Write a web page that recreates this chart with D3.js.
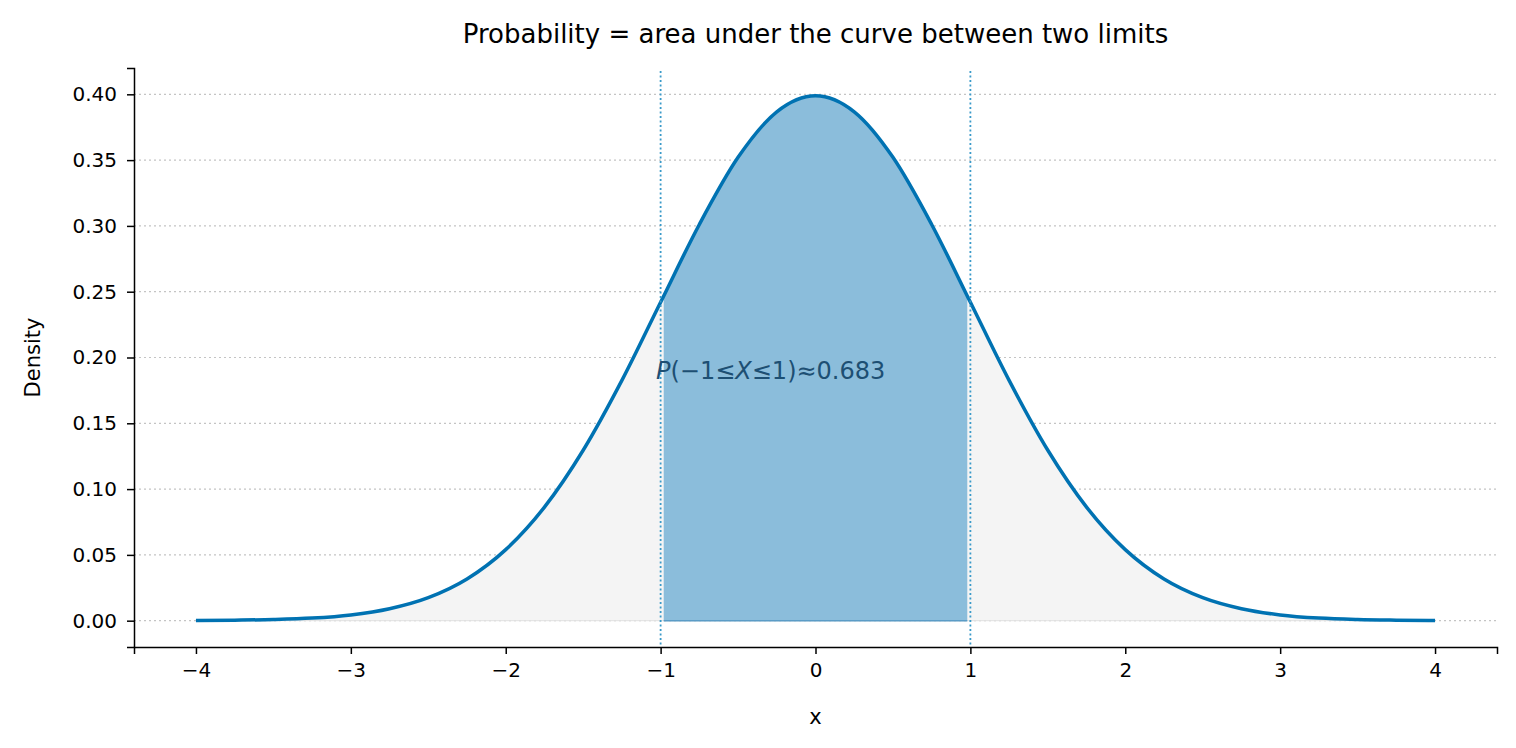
<!DOCTYPE html>
<html>
<head>
<meta charset="utf-8" />
<script src="https://d3js.org/d3.v7.min.js"></script>
<style>
  body { margin: 0; background: #fff; }
  text { font-family: "DejaVu Sans", sans-serif; }
</style>
</head>
<body>
<svg id="chart"></svg>
<script>
// values, step 0.25
var xs = [-4,-3.75,-3.5,-3.25,-3,-2.75,-2.5,-2.25,-2,-1.75,-1.5,-1.25,-1,-0.75,-0.5,-0.25,0,0.25,0.5,0.75,1,1.25,1.5,1.75,2,2.25,2.5,2.75,3,3.25,3.5,3.75,4];
var density = [0.0001,0.0004,0.0009,0.0020,0.0044,0.0091,0.0175,0.0317,0.0540,0.0863,0.1295,0.1826,0.2420,0.3011,0.3521,0.3867,0.3989,0.3867,0.3521,0.3011,0.2420,0.1826,0.1295,0.0863,0.0540,0.0317,0.0175,0.0091,0.0044,0.0020,0.0009,0.0004,0.0001];
var xTicks = [-4,-3,-2,-1,0,1,2,3,4];
var yTicks = [0,0.05,0.1,0.15,0.2,0.25,0.3,0.35,0.4];
var limits = [-1, 1];
var shadeLimits = [-0.98, 0.98];

var width = 1516, height = 748;
var margin = {top: 68, right: 19, bottom: 101, left: 134};
var svg = d3.select("#chart").attr("width", width).attr("height", height);

var x = d3.scaleLinear().domain([-4.4, 4.4]).range([margin.left, width - margin.right]);
var y = d3.scaleLinear().domain([-0.02, 0.42]).range([height - margin.bottom, margin.top]);

var pts = xs.map(function(v, i) { return [v, density[i]]; });

// grid
svg.append("g").selectAll("line").data(yTicks).join("line")
  .attr("x1", margin.left).attr("x2", width - margin.right)
  .attr("y1", function(d) { return y(d); }).attr("y2", function(d) { return y(d); })
  .attr("stroke", "#c4c4c4").attr("stroke-dasharray", "2,3").attr("stroke-width", 1.2);

var area = d3.area().x(function(d) { return x(d[0]); }).y0(y(0)).y1(function(d) { return y(d[1]); })
  .curve(d3.curveMonotoneX);
var line = d3.line().x(function(d) { return x(d[0]); }).y(function(d) { return y(d[1]); })
  .curve(d3.curveMonotoneX);

svg.append("path").datum(pts).attr("d", area)
  .attr("fill", "#f4f4f4").attr("stroke", "#dddddd").attr("stroke-width", 0.8);

svg.append("clipPath").attr("id", "shade").append("rect")
  .attr("x", x(shadeLimits[0])).attr("width", x(shadeLimits[1]) - x(shadeLimits[0]))
  .attr("y", 0).attr("height", height);
svg.append("path").datum(pts).attr("d", area).attr("clip-path", "url(#shade)")
  .attr("fill", "#8bbddb").attr("stroke", "#5b9cc6").attr("stroke-width", 1.5);

svg.append("path").datum(pts).attr("d", line)
  .attr("fill", "none").attr("stroke", "#0072b2").attr("stroke-width", 3.5);

svg.append("g").selectAll("line").data(limits).join("line")
  .attr("x1", function(d) { return x(d); }).attr("x2", function(d) { return x(d); })
  .attr("y1", margin.top + 3).attr("y2", height - margin.bottom)
  .attr("stroke", "#3a9ac9").attr("stroke-width", 1.8).attr("stroke-dasharray", "2,2.5");

// axes
var xAxis = svg.append("g").attr("transform", "translate(0," + (height - margin.bottom) + ")")
  .call(d3.axisBottom(x).tickValues(xTicks).tickSizeOuter(0).tickSize(7).tickPadding(9)
    .tickFormat(function(d) { return d < 0 ? "\u2212" + (-d) : d; }));
var yAxis = svg.append("g").attr("transform", "translate(" + margin.left + ",0)")
  .call(d3.axisLeft(y).tickValues(yTicks).tickSizeOuter(0).tickSize(7).tickPadding(10)
    .tickFormat(d3.format(".2f")));
[xAxis, yAxis].forEach(function(a) {
  a.selectAll("text").attr("font-size", 20).attr("fill", "#000").style("font-family", "DejaVu Sans, sans-serif");
  a.select(".domain").attr("stroke", "#000").attr("stroke-width", 1.5);
  a.selectAll(".tick line").attr("stroke", "#000").attr("stroke-width", 1.5);
});

svg.append("text").attr("x", x(0)).attr("y", 724).attr("text-anchor", "middle")
  .attr("font-size", 21).text("x");
svg.append("text").attr("transform", "translate(40," + y(0.2) + ") rotate(-90)")
  .attr("text-anchor", "middle").attr("font-size", 21).text("Density");
svg.append("text").attr("x", (margin.left + width - margin.right) / 2).attr("y", 43)
  .attr("text-anchor", "middle").attr("font-size", 26).text("Probability = area under the curve between two limits");

var lab = svg.append("text").attr("x", x(-1.03)).attr("y", y(0.19) + 8)
  .attr("font-size", 24).attr("fill", "#1d4f73");
lab.append("tspan").attr("font-style", "italic").text("P");
lab.append("tspan").text("(\u22121\u2264");
lab.append("tspan").attr("font-style", "italic").text("X");
lab.append("tspan").text("\u22641)\u22480.683");
</script>
</body>
</html>
